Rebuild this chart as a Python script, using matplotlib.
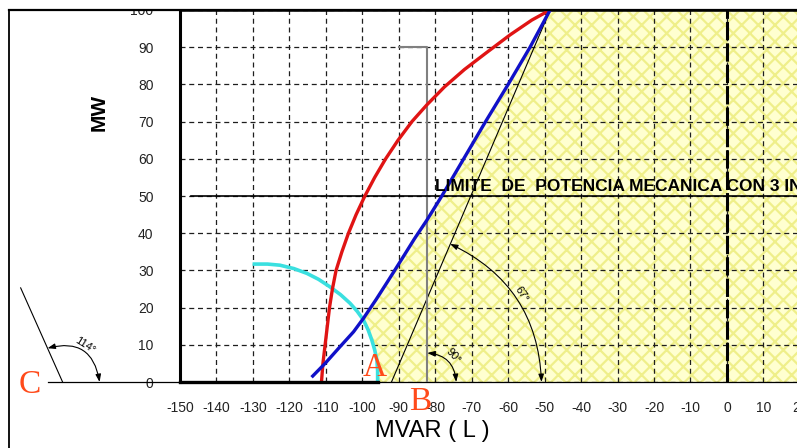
import numpy as np
import matplotlib.pyplot as plt
from matplotlib.patches import FancyArrowPatch, Rectangle
from matplotlib.lines import Line2D

plt.rcParams['font.family'] = ['Liberation Sans', 'DejaVu Sans']
plt.rcParams['hatch.linewidth'] = 1.6

# curves (MVAR, MW)
red_mvar = [-111.2, -110.8, -110.2, -109.6, -109.0, -108.2, -107.2, -105.6, -103.8, -101.7, -99.3,
            -96.6, -93.6, -90.2, -86.4, -82.3, -77.5, -72.0, -66.0, -59.5, -53.5, -48.5]
red_mw = [0, 5, 10, 15, 20, 25, 30, 35, 40, 45, 50,
          55, 60, 65, 70, 74.5, 79.3, 84, 88.5, 93.3, 97.3, 100]

blue_mvar = [-113.6, -110.2, -106.1, -102.4, -99.7, -96.2, -92.8, -89.2, -85.7, -82.3,
             -78.2, -72.5, -66.2, -60.0, -54.0, -48.5]
blue_mw = [1.6, 5, 9.5, 13.5, 17.1, 22.2, 27.4, 33, 38.5, 43.5,
           50, 59.5, 70, 80, 90, 100]

cyan_mvar = [-130.1, -126.0, -122.6, -118.8, -115.2, -112.0, -108.9, -106.0, -103.4,
             -101.4, -99.7, -98.4, -97.4, -96.6, -96.0, -95.8, -95.8]
cyan_mw = [31.7, 31.7, 31.4, 30.5, 29.2, 27.6, 25.6, 23.5, 21.2,
           19.0, 16.7, 14.0, 11.3, 8.6, 5.9, 3.0, 0]

thin_mvar = [-92.0, -48.5]   # 67 deg line
thin_mw = [0, 100]

gray_mvar = -82.2            # vertical line at point B
gray_top = 90
point_a = -95.8
limit_mw = 50
limit_text = "LIMITE  DE  POTENCIA MECANICA CON 3 IN"

c_vertex = (-182.2, 0)       # 114 deg construction, left of the axes
c_line_mvar = [-182.2, -193.7]
c_line_mw = [0, 25.3]

x_ticks = list(range(-150, 21, 10))
y_ticks = list(range(0, 101, 10))
xmax = 20.5

W, H = 797, 448
fig = plt.figure(figsize=(W / 100, H / 100), dpi=100)
ax = fig.add_axes([180 / W, 66 / H, (801.7 - 180) / W, 372 / H])
ax.set_xlim(-150, xmax)
ax.set_ylim(0, 100)

# yellow hatched zone: right of cyan arc, below blue curve
cm, cp = np.array(cyan_mvar), np.array(cyan_mw)
bm, bp = np.array(blue_mvar), np.array(blue_mw)
low = cp <= 17
up = bp >= 17
zone_x = [xmax] + list(cm[low][::-1]) + list(bm[up]) + [xmax]
zone_y = [0] + list(cp[low][::-1]) + list(bp[up]) + [100]
ax.fill(zone_x, zone_y, facecolor='#ffffd0', edgecolor='#efef8a', hatch='xx', lw=0, zorder=1)

ax.set_xticks(x_ticks)
ax.set_xticklabels([str(v) for v in x_ticks])
ax.set_yticks(y_ticks)
ax.set_yticklabels([str(v) for v in y_ticks])
ax.grid(True, color='#1e1e1e', ls=(0, (4, 3)), lw=0.9)
ax.axvline(0, color='k', ls=(0, (6, 1)), lw=2.2, zorder=2)
ax.tick_params(length=0, labelsize=10, labelcolor='#222222')
ax.tick_params(axis='x', pad=13.5)
ax.tick_params(axis='y', pad=19)
ax.spines['right'].set_visible(False)
ax.spines['left'].set_linewidth(2.2)
ax.spines['top'].set_linewidth(1.8)
ax.spines['bottom'].set_linewidth(0.9)

# curves
ax.plot(cyan_mvar, cyan_mw, color='#3ae0e0', lw=2.6, solid_capstyle='butt', zorder=3)
ax.plot(red_mvar, red_mw, color='#e01414', lw=2.4, zorder=4)
ax.plot(blue_mvar, blue_mw, color='#1010c8', lw=2.4, zorder=4)
ax.plot(thin_mvar, thin_mw, color='k', lw=0.8, zorder=3)
ax.plot([-90, gray_mvar, gray_mvar], [gray_top, gray_top, 0], color='#808080', lw=1.5, zorder=3)
ax.plot([-147, xmax], [limit_mw, limit_mw], color='k', lw=1.2, zorder=3)
ax.plot([-150, point_a], [0, 0], color='k', lw=2.4, zorder=4, clip_on=False)
ax.text(-80.1, 51.3, limit_text, fontsize=12.5, fontweight='bold', ha='left', va='baseline',
        zorder=5, clip_on=False)

# construction outside the axes (point C)
ax.plot([-186.3, -150], [0, 0], color='k', lw=0.9, clip_on=False)
ax.plot(c_line_mvar, c_line_mw, color='k', lw=0.8, clip_on=False)


def angle_arc(vertex, r_px, a0, a1, label, lab_ang, lab_r, lab_rot):
    vx, vy = ax.transData.transform(vertex)
    inv = ax.transData.inverted()
    ends = []
    for a in (a0, a1):
        t = np.radians(a)
        ends.append(inv.transform((vx + r_px * np.cos(t), vy + r_px * np.sin(t))))
    rad = np.tan(np.radians(a1 - a0) / 4)
    arc = FancyArrowPatch(ends[0], ends[1], connectionstyle=f"arc3,rad={rad:.3f}",
                          arrowstyle='<|-|>,head_length=0.45,head_width=0.16',
                          mutation_scale=10, lw=0.8, color='k', shrinkA=0, shrinkB=0,
                          clip_on=False, zorder=5)
    ax.add_patch(arc)
    t = np.radians(lab_ang)
    lx, ly = inv.transform((vx + lab_r * np.cos(t), vy + lab_r * np.sin(t)))
    ax.text(lx, ly, label, fontsize=8, rotation=lab_rot, ha='center', va='center',
            clip_on=False, zorder=5)


angle_arc(c_vertex, 37, 0, 114, '114°', 58, 43, -32)
angle_arc((gray_mvar, 0), 29, 0, 90, '90°', 44, 37, -46)
angle_arc((thin_mvar[0], 0), 150, 0, 67, '67°', 34, 157, -56)

# axis titles and point letters
fig.text(99 / W, 1 - 112 / H, 'MW', rotation=90, ha='center', va='center', fontsize=15,
         fontweight='bold')
fig.text(432 / W, 1 - 431 / H, 'MVAR ( L )', ha='center', va='center', fontsize=17)
for letter, px, py in [('A', 375, 376), ('B', 420, 410), ('C', 30, 393)]:
    fig.text(px / W, 1 - py / H, letter, ha='center', va='baseline', fontsize=24,
             family='Liberation Serif', color='#ff4a1a')

# page frame, top clipped like the scan
fig.add_artist(Rectangle((0, 438 / H), 1, 10 / H, transform=fig.transFigure,
                         facecolor='white', edgecolor='none', zorder=10))
fig.add_artist(Line2D([9 / W, 9 / W], [0, 438 / H], transform=fig.transFigure, color='k', lw=1.3, zorder=11))
fig.add_artist(Line2D([9 / W, 1], [438 / H, 438 / H], transform=fig.transFigure, color='k', lw=1.6, zorder=11))

fig.savefig('out.png', dpi=100)
